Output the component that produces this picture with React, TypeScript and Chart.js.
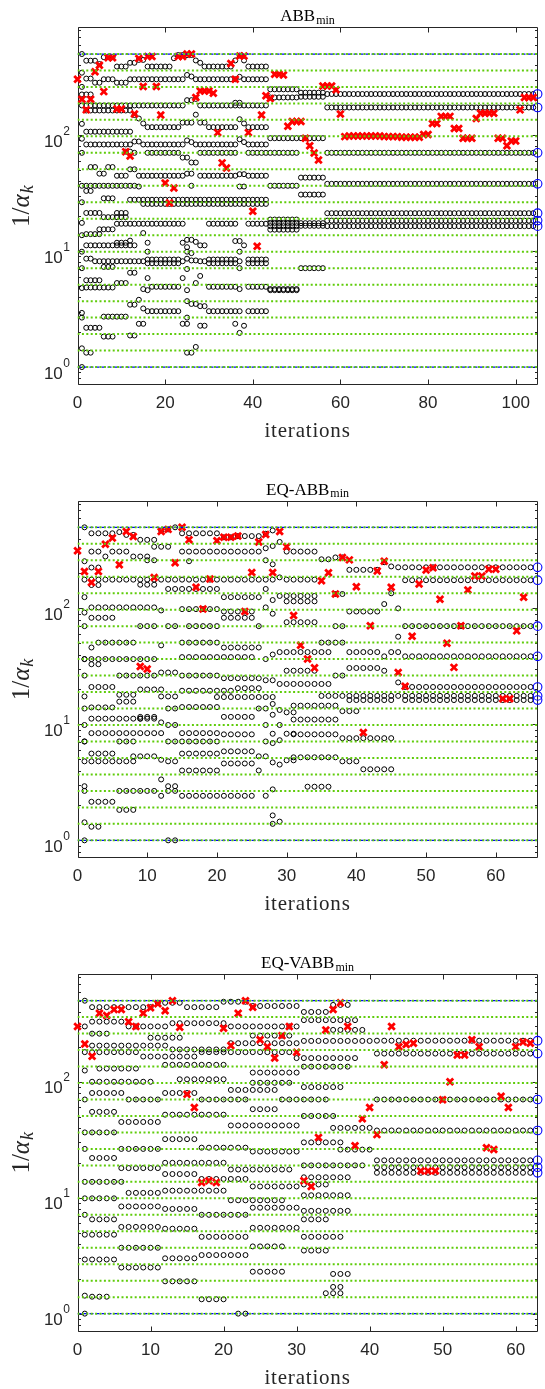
import React, { useEffect, useRef } from 'react';
import { Chart, registerables } from 'chart.js';

Chart.register(...registerables);

type Run = [number, number, number]; // [1/alpha value, first iteration, last iteration]

// spectrum of the test matrix (dotted green levels)
const eigenvalues = [1, 1.387, 1.924, 2.668, 3.701, 5.133, 7.12, 9.875, 13.7, 19.0, 26.35, 36.55, 50.69, 70.31, 97.53, 135.3, 187.6, 260.3, 361.0, 500];
const lambdaMin = 1;
const lambdaMax = 500;
const yMin = 0.71;
const yMax = 850;
const yDecades = [1, 10, 100];

// ---------------- ABB_min ----------------
const abbLastX = 105;
const abbTicks = [0, 20, 40, 60, 80, 100];
const abbRitz: Run[] = [
  [500, 1, 1], [345, 1, 1], [260.3, 1, 1], [224, 1, 1], [180, 1, 1], [125, 1, 1], [93, 1, 1], [70.31, 1, 1], [36.55, 1, 1], [26.35, 1, 1], [17.5, 1, 1], [13.7, 1, 1], [9.875, 1, 1], [7.12, 1, 1], [4.8, 1, 1], [2.93, 1, 1], [2.668, 1, 1], [1.45, 1, 1], [1, 1, 1],
  [438, 2, 4], [410, 5, 5], [470, 6, 8], [390, 9, 11], [420, 12, 13], [445, 14, 15], [390, 16, 21], [460, 22, 22], [490, 23, 26], [440, 27, 27], [420, 28, 28], [390, 29, 35], [440, 36, 36], [485, 37, 37], [440, 38, 38], [390, 39, 43],
  [307, 2, 3], [283, 4, 5], [303, 6, 8], [283, 9, 11], [303, 12, 24], [330, 25, 25], [320, 26, 26], [303, 27, 36], [318, 37, 37], [303, 38, 43],
  [224, 2, 3], [200, 25, 26], [205, 27, 27], [190, 36, 37],
  [180, 2, 24], [180, 28, 43], [163, 2, 12], [149, 13, 13], [139, 14, 14],
  [126, 15, 15], [117, 16, 23], [128, 24, 26], [150, 27, 27], [128, 28, 29], [117, 30, 36], [137, 37, 37], [126, 38, 38], [117, 39, 43],
  [107, 2, 12],
  [83, 2, 12], [88, 13, 14], [83, 15, 24], [90, 25, 25], [87, 26, 26], [83, 27, 36], [92, 37, 37], [87, 38, 38], [83, 39, 43],
  [72, 11, 12], [70.31, 13, 13], [70.31, 16, 23], [64, 24, 25], [58, 26, 27], [70.31, 28, 36], [70.31, 39, 43],
  [53, 3, 4], [46.5, 5, 6], [53, 7, 8],
  [44.6, 9, 11], [50.69, 12, 13], [44.6, 14, 24], [46.5, 25, 26], [44.6, 28, 36], [46, 37, 38], [44.6, 39, 43],
  [36.55, 2, 13], [36, 14, 14], [36.55, 26, 26], [36, 37, 38], [33, 2, 3],
  [28.5, 6, 8], [27.7, 12, 43], [25.5, 15, 43],
  [21.3, 2, 5], [19.6, 6, 11], [21.3, 9, 11],
  [17.2, 9, 24], [17.2, 30, 36], [17.2, 39, 43], [15.4, 5, 8], [14.0, 2, 5], [14.3, 15, 15],
  [11.2, 2, 13], [11.8, 9, 11], [12.3, 12, 12], [11.8, 16, 16], [11.8, 24, 24], [12.5, 25, 25], [10.8, 25, 25], [12.5, 26, 26], [12, 27, 27], [11.2, 28, 29], [12.2, 36, 37], [11.2, 38, 38],
  [9.875, 16, 16], [9.875, 25, 25], [9.6, 26, 26], [9.875, 37, 37],
  [8.6, 2, 3], [8.17, 4, 15], [8.45, 16, 23], [7.85, 16, 23], [8.17, 24, 24], [8.6, 25, 25], [8.3, 26, 27], [8.17, 28, 29], [8.45, 30, 36], [7.85, 30, 36], [8.17, 37, 37], [8.45, 39, 43], [7.85, 39, 43],
  [7.3, 6, 8], [7.0, 25, 25], [7.12, 37, 37],
  [6.5, 12, 13], [5.85, 16, 16], [5.85, 24, 24], [5.3, 27, 27], [6.1, 28, 28], [5.6, 2, 5], [5.3, 9, 11],
  [4.85, 2, 8], [4.7, 15, 15], [4.6, 16, 16], [4.92, 17, 23], [4.6, 25, 25], [4.92, 30, 36], [4.7, 37, 37], [4.92, 39, 43],
  [3.45, 12, 13], [3.8, 14, 14], [3.2, 15, 15], [3.7, 25, 25], [3.5, 26, 27], [3.35, 28, 29],
  [3.03, 16, 23], [3.03, 30, 36], [3.03, 37, 37], [3.03, 39, 43],
  [2.72, 6, 11], [2.668, 25, 25],
  [2.18, 2, 5], [2.36, 14, 15], [2.36, 24, 25], [2.27, 28, 29], [2.36, 36, 36], [2.27, 38, 38],
  [1.83, 6, 8], [1.87, 12, 13], [1.97, 37, 37], [1.33, 2, 3], [1.33, 25, 26], [1.49, 27, 27],
  [248, 44, 50], [211, 44, 50], [232, 51, 56], [214, 51, 56], [226, 57, 104], [173, 57, 104],
  [94, 44, 56], [70.31, 44, 50], [70.31, 57, 104], [43, 51, 56], [36.55, 44, 50], [38, 57, 104], [30.7, 51, 56],
  [21.2, 57, 104], [18.7, 44, 50], [17.5, 44, 50], [16.4, 44, 50], [15.3, 44, 50], [17.4, 51, 56], [16.5, 51, 56],
  [18.3, 57, 104], [16.4, 57, 104], [7.12, 51, 56], [4.7, 44, 50], [4.6, 44, 50],
];
// 1/alpha_k for k = 0, 1, 2, ...
const abbSteps: (number | null)[] = [
  303, 204, 165, 204, 352, 400, 237, 465, 465, 168, 168, 72, 66, 152, 458, 262, 475, 475, 262, 149,
  38.6, 26, 35, 475, 475, 500, 500, 211, 240, 240, 240, 230, 105, 57.6, 52, 415, 303, 480, 480, 105,
  22, 11, 149, 218, 207, 334, 334, 330, 119, 131, 131, 131, 94, 81, 70, 61, 265, 265, 265, 246,
  152, 97, 98, 98, 98, 98, 98, 98, 98, 98, 97, 97, 97, 97, 96, 96, 96, 96, 96, 101,
  101, 126, 126, 145, 145, 145, 114, 114, 94, 94, 94, 139, 154, 154, 154, 154, 94, 94, 81, 89,
  89, 165, 211, 211, 211,
];
const abbFinal = [226, 173, 70.31, 38, 21.2, 18.3, 16.4];

// ---------------- EQ-ABB_min ----------------
const eqAbbLastX = 66;
const eqAbbTicks = [0, 10, 20, 30, 40, 50, 60];
const eqAbbRitz: Run[] = [
  [500, 1, 1], [255, 1, 1], [125, 1, 1], [92, 1, 1], [70.31, 1, 1], [36.55, 1, 1], [26.35, 1, 1], [17.4, 1, 1], [13.7, 1, 1], [9.875, 1, 1], [7.12, 1, 1], [4.8, 1, 1], [2.93, 1, 1], [2.668, 1, 1], [1.43, 1, 1], [1, 1, 1],
  [444, 2, 5], [455, 6, 6], [430, 7, 8], [390, 9, 11], [470, 12, 12], [480, 13, 13], [500, 14, 14], [444, 15, 20], [410, 21, 22], [420, 23, 26], [440, 27, 27], [470, 28, 28], [374, 29, 29],
  [309, 2, 3], [280, 4, 4], [309, 5, 7], [280, 8, 10], [340, 11, 13], [309, 15, 26], [330, 27, 27], [345, 28, 28], [309, 30, 34],
  [225, 2, 3], [260, 10, 11], [255, 16, 16], [260, 27, 27], [240, 28, 28],
  [177, 1, 28], [185, 29, 29], [177, 30, 34], [159, 2, 3], [160, 9, 11],
  [147, 13, 20], [147, 27, 27], [125, 21, 26], [118, 28, 28], [128, 29, 34], [115, 30, 34],
  [102, 2, 11], [96, 12, 12], [98.6, 15, 20], [94, 21, 25], [102, 27, 27], [90, 28, 28],
  [83, 2, 5], [83, 21, 25], [76, 30, 34],
  [70.31, 9, 11], [70.31, 13, 14], [70.31, 16, 20], [70.31, 26, 26],
  [50.69, 3, 8], [50.69, 15, 20], [46, 21, 26], [48, 12, 12], [46, 2, 2],
  [36.55, 1, 5], [36.55, 6, 11], [38, 15, 20], [38, 21, 25], [36.55, 27, 27], [40, 28, 28],
  [33, 2, 3], [42, 29, 36], [29, 30, 34], [22.3, 29, 36],
  [26.35, 6, 11], [28, 12, 14], [26.35, 15, 20], [25, 21, 26], [24, 27, 28],
  [21, 2, 5], [20, 9, 12], [19.5, 15, 22], [20.5, 23, 26],
  [18, 6, 8], [17.4, 12, 14], [17.2, 20, 28],
  [14.0, 2, 5], [13.7, 13, 14], [14.1, 15, 20], [15.7, 6, 8], [13.7, 26, 27], [15, 28, 28], [13.3, 29, 29], [12.7, 30, 31],
  [11.2, 2, 9], [11.6, 9, 11], [11.2, 9, 11], [10.4, 12, 12], [9.875, 13, 14], [11.6, 21, 25], [12.1, 28, 28], [9.875, 27, 27], [9.875, 29, 29],
  [8.4, 2, 12], [8.4, 15, 20], [8.2, 21, 25], [8.3, 28, 28], [8.3, 30, 31],
  [7.12, 1, 1], [7.12, 6, 8], [7.12, 13, 14], [7.12, 15, 20], [7.12, 27, 27], [6.9, 28, 28], [7.3, 29, 29],
  [5.6, 2, 5], [5.6, 15, 20], [5.85, 21, 25], [5.3, 8, 11], [5.3, 26, 27],
  [4.8, 2, 8], [4.95, 12, 12], [4.8, 13, 14], [4.6, 21, 25], [4.7, 28, 28], [4.5, 29, 29], [4.9, 30, 31],
  [4.0, 15, 20], [4.0, 26, 26], [3.35, 12, 12], [2.93, 13, 14],
  [2.668, 6, 11], [2.668, 13, 14], [2.42, 12, 12], [2.42, 15, 25], [2.42, 27, 27], [2.75, 28, 28],
  [2.15, 2, 5], [1.83, 6, 8], [1.64, 28, 28], [1.387, 28, 28], [1.45, 29, 29], [1.31, 2, 3], [1, 13, 14],
  [265, 35, 36], [275, 37, 38], [215, 39, 43], [250, 44, 44], [230, 45, 45], [226, 46, 65], [175, 47, 65],
  [133, 37, 38], [94, 39, 43], [109, 44, 44], [135, 45, 45], [100, 46, 46],
  [70.31, 37, 38], [70.31, 47, 65], [57, 46, 46], [50.69, 35, 38],
  [42, 39, 43], [38.6, 44, 44], [42, 45, 46], [38.6, 47, 65],
  [26.35, 37, 38], [30.6, 39, 43], [29, 44, 44], [23, 46, 46], [21, 47, 65],
  [17.6, 35, 65], [16.2, 39, 45], [16.2, 47, 65],
  [14.5, 31, 37], [11, 31, 37], [13, 38, 40], [8.2, 31, 37], [7.6, 38, 45], [5.2, 31, 37], [4.8, 38, 40], [4.1, 41, 45], [2.9, 33, 36],
];
const eqAbbSteps: (number | null)[] = [
  314, 208, 167, 208, 357, 405, 238, 460, 417, 31.6, 30, 185, 460, 480, 248, 500, 390, 152, 98.6, 179,
  383, 410, 410, 420, 94, 204, 374, 434, 204, 460, 340, 87, 48, 36.6, 30.7, 173, 203, 133, 275, 262,
  154, 8.5, 71, 210, 255, 152, 28, 21.3, 57.5, 162, 214, 224, 120, 50, 31, 71, 144, 190, 190, 218,
  218, 16.6, 16.6, 64, 125,
];
const eqAbbFinal = [226, 175, 70.31, 38.6, 21, 17.6, 16.2];

// ---------------- EQ-VABB_min ----------------
const eqVabbLastX = 63;
const eqVabbTicks = [0, 10, 20, 30, 40, 50, 60];
const eqVabbRitz: Run[] = [
  [500, 1, 1], [300, 1, 1], [180, 1, 1], [125, 1, 1], [70.31, 1, 1], [36.55, 1, 1], [26.35, 1, 1], [13.7, 1, 1], [9.875, 1, 1], [7.12, 1, 1], [4.8, 1, 1], [2.93, 1, 1], [1.43, 1, 1], [1, 1, 1],
  [440, 2, 10], [480, 11, 14], [440, 15, 19], [490, 20, 23], [450, 24, 30], [400, 31, 34], [460, 35, 37],
  [330, 2, 6], [300, 7, 12], [320, 13, 20], [300, 21, 30], [340, 31, 38],
  [260, 2, 4], [240, 10, 14], [250, 24, 29], [280, 35, 39],
  [205, 2, 12], [190, 13, 20], [215, 21, 30], [225, 31, 40], [226, 41, 62],
  [180, 2, 8], [165, 9, 16], [180, 17, 29], [160, 30, 38], [175, 41, 62],
  [130, 3, 8], [140, 12, 20], [120, 24, 30], [135, 31, 37],
  [100, 2, 10], [105, 14, 20], [98, 24, 29], [90, 31, 36],
  [80, 2, 6], [80, 12, 16], [85, 21, 27],
  [70.31, 7, 11], [70.31, 17, 23], [70.31, 28, 34], [70.31, 41, 62],
  [55, 2, 5], [52, 12, 20], [58, 24, 27], [50.69, 31, 35],
  [45, 6, 11], [42, 21, 30], [40, 35, 40], [38, 41, 62],
  [36.55, 2, 5], [32, 12, 16], [30, 31, 36],
  [26.35, 6, 11], [27, 17, 23], [25, 24, 30], [26, 36, 40],
  [22, 2, 5], [20, 12, 20], [21, 41, 62],
  [18, 6, 11], [17.5, 21, 29], [19, 31, 39], [18.3, 41, 62],
  [16, 12, 16], [15, 31, 37], [16.4, 41, 62],
  [13.7, 2, 6], [14.5, 17, 23], [12.5, 24, 30], [13, 31, 34],
  [11, 7, 11], [11.5, 12, 20], [10.5, 31, 37], [9.875, 2, 5], [9.5, 21, 28],
  [8.4, 6, 11], [8, 12, 16], [8.2, 24, 30], [7.7, 31, 37], [7.12, 17, 23], [6.5, 2, 5], [6.5, 31, 34],
  [5.6, 6, 11], [5.4, 12, 16], [5.5, 24, 30], [4.8, 2, 5], [4.6, 17, 23], [4.6, 31, 36],
  [3.7, 6, 11], [3.8, 24, 28], [3.5, 31, 34], [3, 12, 16], [2.93, 2, 5], [3.2, 17, 23],
  [2.5, 6, 11], [2.3, 24, 28], [2.2, 35, 37], [1.9, 12, 16], [1.7, 35, 36], [1.4, 2, 4], [1.33, 17, 20], [1.5, 34, 36], [1, 22, 23],
];
const eqVabbSteps: (number | null)[] = [
  300, 212, 166, 390, 372, 420, 420, 330, 300, 390, 435, 470, 410, 500, 295, 78, 60, 13.5, 14, 13.5,
  290, 205, 390, 500, 440, 230, 200, 160, 250, 300, 180, 14, 12.5, 33, 280, 420, 480, 300, 28, 48,
  60, 35, 140, 300, 200, 210, 215, 17, 17, 17, 70, 100, 170, 170, 230, 200, 27, 26, 75, 60,
  200, 220, 215,
];
const eqVabbFinal = [226, 175, 70.31, 38, 21, 18.3, 16.4];

interface PanelSpec {
  name: string;
  sub: string;
  lastX: number;
  ticks: number[];
  ritz: Run[];
  steps: (number | null)[];
  final: number[];
}

const panels: PanelSpec[] = [
  { name: 'ABB', sub: 'min', lastX: abbLastX, ticks: abbTicks, ritz: abbRitz, steps: abbSteps, final: abbFinal },
  { name: 'EQ-ABB', sub: 'min', lastX: eqAbbLastX, ticks: eqAbbTicks, ritz: eqAbbRitz, steps: eqAbbSteps, final: eqAbbFinal },
  { name: 'EQ-VABB', sub: 'min', lastX: eqVabbLastX, ticks: eqVabbTicks, ritz: eqVabbRitz, steps: eqVabbSteps, final: eqVabbFinal },
];

const CANVAS_W = 545;
const PLOT_LEFT = 77.5;
const PLOT_RIGHT = 540;
const AXIS_COLOR = '#262626';
const SANS = '"Liberation Sans", Arial, sans-serif';
const SERIF = '"Liberation Serif", "Times New Roman", serif';

const framePlugin = {
  id: 'frame',
  beforeDatasetsDraw(chart: any) {
    const { ctx, chartArea: a, scales } = chart;
    const x = scales.x;
    const y = scales.y;
    const spec: PanelSpec = chart.options.plugins.frame.spec;
    ctx.save();
    ctx.strokeStyle = AXIS_COLOR;
    ctx.lineWidth = 1;
    const L = Math.round(a.left) + 0.5;
    const R = Math.round(a.right) - 0.5;
    const T = Math.round(a.top) + 0.5;
    const B = Math.round(a.bottom) - 0.5;
    ctx.beginPath();
    ctx.rect(L, T, R - L, B - T);
    // x ticks, inward at top and bottom
    spec.ticks.forEach((t) => {
      const px = Math.round(x.getPixelForValue(t)) + 0.5;
      ctx.moveTo(px, B); ctx.lineTo(px, B - 5);
      ctx.moveTo(px, T); ctx.lineTo(px, T + 5);
    });
    // y ticks on a log scale: decades plus minor ticks
    const decades = [0.1, 1, 10, 100, 1000];
    decades.forEach((d) => {
      for (let m = 1; m <= 9; m++) {
        const v = d * m;
        if (v < yMin || v > yMax) continue;
        const py = Math.round(y.getPixelForValue(v)) + 0.5;
        const len = m === 1 ? 5 : 2.5;
        ctx.moveTo(L, py); ctx.lineTo(L + len, py);
        ctx.moveTo(R, py); ctx.lineTo(R - len, py);
      }
    });
    ctx.stroke();
    ctx.restore();
  },
  afterDraw(chart: any) {
    const { ctx, chartArea: a, scales } = chart;
    const x = scales.x;
    const y = scales.y;
    const spec: PanelSpec = chart.options.plugins.frame.spec;
    ctx.save();
    ctx.fillStyle = AXIS_COLOR;
    // x tick labels
    ctx.font = `17px ${SANS}`;
    ctx.textAlign = 'center';
    ctx.textBaseline = 'alphabetic';
    spec.ticks.forEach((t) => {
      ctx.fillText(String(t), x.getPixelForValue(t), a.bottom + 23);
    });
    // y tick labels 10^n
    yDecades.forEach((v) => {
      const py = y.getPixelForValue(v);
      const exp = String(Math.round(Math.log10(v)));
      ctx.font = `12px ${SANS}`;
      const ew = ctx.measureText(exp).width;
      ctx.textAlign = 'left';
      ctx.fillText(exp, 70 - ew, py - 0.5);
      ctx.font = `17px ${SANS}`;
      ctx.textAlign = 'right';
      ctx.fillText('10', 70 - ew - 0.5, py + 11.5);
    });
    // x label
    const cx = (a.left + a.right) / 2;
    ctx.font = `21px ${SERIF}`;
    ctx.textAlign = 'center';
    (ctx as any).letterSpacing = '0.8px';
    ctx.fillText('iterations', cx, a.bottom + 52);
    (ctx as any).letterSpacing = '0px';
    // title with subscript
    ctx.fillStyle = '#000';
    ctx.font = `17px ${SERIF}`;
    const mw = ctx.measureText(spec.name).width;
    ctx.font = `12px ${SERIF}`;
    const sw = ctx.measureText(spec.sub).width;
    const tx = cx - (mw + sw + 1) / 2;
    ctx.textAlign = 'left';
    ctx.font = `17px ${SERIF}`;
    ctx.fillText(spec.name, tx, a.top - 6);
    ctx.font = `12px ${SERIF}`;
    ctx.fillText(spec.sub, tx + mw + 1, a.top - 3.5);
    // y label 1/alpha_k, rotated
    ctx.fillStyle = AXIS_COLOR;
    ctx.translate(21, (a.top + a.bottom) / 2);
    ctx.rotate(-Math.PI / 2);
    ctx.font = `25px ${SERIF}`;
    const w1 = ctx.measureText('1/').width;
    ctx.font = `italic 25px ${SERIF}`;
    const w2 = ctx.measureText('\u03b1').width;
    ctx.font = `italic 18px ${SERIF}`;
    const w3 = ctx.measureText('k').width;
    let sx = -(w1 + w2 + w3 + 1) / 2;
    ctx.font = `25px ${SERIF}`;
    ctx.fillText('1/', sx, 7.5);
    sx += w1;
    ctx.font = `italic 25px ${SERIF}`;
    ctx.fillText('\u03b1', sx, 7.5);
    sx += w2 + 1;
    ctx.font = `italic 18px ${SERIF}`;
    ctx.fillText('k', sx, 11.5);
    ctx.restore();
  },
};

function expandRuns(runs: Run[]) {
  const pts: { x: number; y: number }[] = [];
  runs.forEach(([v, a, b]) => {
    for (let k = a; k <= b; k++) pts.push({ x: k, y: v });
  });
  return pts;
}

function PanelChart({ spec, top, height, plotTop, plotBottom }: { spec: PanelSpec; top: number; height: number; plotTop: number; plotBottom: number }) {
  const ref = useRef<HTMLCanvasElement | null>(null);
  useEffect(() => {
    if (!ref.current) return;
    const X = spec.lastX;
    const levelSets = eigenvalues.map((e) => ({
      data: [{ x: 0, y: e }, { x: X, y: e }],
      showLine: true,
      borderColor: '#5fcc0a',
      borderWidth: 2,
      borderDash: [2, 2.4],
      pointRadius: 0,
      order: 0,
    }));
    const boundSets = [lambdaMin, lambdaMax].map((e) => ({
      data: [{ x: 0, y: e }, { x: X, y: e }],
      showLine: true,
      borderColor: '#0000ff',
      borderWidth: 1.2,
      borderDash: [4, 2],
      pointRadius: 0,
      order: 1,
    }));
    const stepPts = spec.steps
      .map((v, k) => (v == null ? null : { x: k, y: v }))
      .filter((p) => p !== null);
    const chart = new Chart(ref.current, {
      type: 'scatter',
      data: {
        datasets: [
          ...levelSets,
          ...boundSets,
          {
            data: stepPts,
            pointStyle: 'crossRot',
            pointRadius: 4.6,
            pointBorderWidth: 2.8,
            pointBorderColor: '#ff0000',
            pointBackgroundColor: '#ff0000',
            order: 2,
            clip: false,
          },
          {
            data: spec.final.map((v) => ({ x: X, y: v })),
            pointStyle: 'circle',
            pointRadius: 4.3,
            pointBorderWidth: 1.1,
            pointBorderColor: '#0000ff',
            pointBackgroundColor: 'rgba(0,0,0,0)',
            order: 3,
            clip: false,
          },
          {
            data: expandRuns(spec.ritz),
            pointStyle: 'circle',
            pointRadius: 2.5,
            pointBorderWidth: 1,
            pointBorderColor: '#000000',
            pointBackgroundColor: 'rgba(0,0,0,0)',
            order: 4,
          },
        ] as any,
      },
      options: {
        animation: false,
        responsive: false,
        devicePixelRatio: 1,
        events: [],
        layout: { padding: { top: plotTop, right: CANVAS_W - PLOT_RIGHT, left: 0, bottom: 0 } },
        plugins: {
          legend: { display: false },
          tooltip: { enabled: false },
          title: { display: false },
          frame: { spec },
        } as any,
        scales: {
          x: {
            type: 'linear',
            min: 0,
            max: X,
            ticks: { display: false },
            grid: { display: false },
            border: { display: false },
            afterFit: (s: any) => { s.height = height - plotBottom; },
          },
          y: {
            type: 'logarithmic',
            min: yMin,
            max: yMax,
            ticks: { display: false },
            grid: { display: false },
            border: { display: false },
            afterFit: (s: any) => { s.width = PLOT_LEFT; },
          },
        },
      } as any,
      plugins: [framePlugin],
    });
    return () => chart.destroy();
  }, [spec, height, plotTop, plotBottom]);
  return (
    <canvas
      ref={ref}
      width={CANVAS_W}
      height={height}
      style={{ position: 'absolute', left: 0, top, width: CANVAS_W, height }}
    />
  );
}

export default function App() {
  const layout = [
    { top: 0, height: 473, plotTop: 27.3, plotBottom: 385 },
    { top: 473, height: 473, plotTop: 27.6, plotBottom: 385.3 },
    { top: 946, height: 443, plotTop: 28, plotBottom: 385.6 },
  ];
  return (
    <div style={{ position: 'absolute', left: 0, top: 0, width: CANVAS_W, height: 1389, background: '#ffffff' }}>
      {panels.map((p, i) => (
        <PanelChart key={p.name} spec={p} {...layout[i]} />
      ))}
    </div>
  );
}
